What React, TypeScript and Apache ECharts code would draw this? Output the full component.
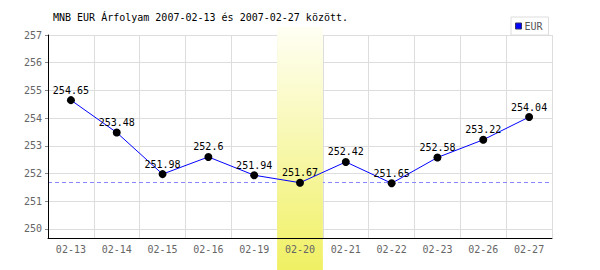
import React, { useEffect, useRef } from "react";
import * as echarts from "echarts";

const categories = ["02-13", "02-14", "02-15", "02-16", "02-19", "02-20", "02-21", "02-22", "02-23", "02-26", "02-27"];
const eurValues = [254.65, 253.48, 251.98, 252.6, 251.94, 251.67, 252.42, 251.65, 252.58, 253.22, 254.04];
const yTicks = [250, 251, 252, 253, 254, 255, 256, 257];
const highlightIndex = 5;
const titleText = "MNB EUR Árfolyam 2007-02-13 és 2007-02-27 között.";
const seriesName = "EUR";

const FONT = "'DejaVu Sans Mono', monospace";
const Y_MIN = 249.675;
const Y_MAX = 257;

export default function App() {
  const ref = useRef<HTMLDivElement>(null);
  useEffect(() => {
    if (!ref.current) return;
    const chart = echarts.init(ref.current, null, { renderer: "svg" });
    chart.setOption({
      animation: false,
      backgroundColor: "#ffffff",
      title: {
        text: titleText,
        left: 53,
        top: 12,
        padding: 0,
        textStyle: { fontFamily: FONT, fontSize: 10, fontWeight: "normal", color: "#000" },
      },
      legend: {
        left: 511,
        top: 17,
        padding: [4, 6, 4, 4],
        backgroundColor: "#fff",
        borderColor: "#dddddd",
        borderWidth: 1,
        itemWidth: 6,
        itemHeight: 6,
        itemGap: 5,
        textStyle: { fontFamily: FONT, fontSize: 10, color: "#555", padding: [0, 0, 0, -2] },
        data: [
          {
            name: seriesName,
            icon: "rect",
            itemStyle: { color: "#0000ff", borderColor: "#333366", borderWidth: 1 },
          },
        ],
      },
      grid: { left: 48, right: 48, top: 35, bottom: 32 },
      xAxis: [
        {
          type: "category",
          data: categories,
          boundaryGap: true,
          z: 4,
          axisLine: { show: true, lineStyle: { color: "#000", width: 1 } },
          axisTick: { show: false },
          axisLabel: { fontFamily: FONT, fontSize: 10, color: "#666", margin: 6 },
          splitLine: { show: false },
        },
        {
          type: "category",
          data: categories,
          boundaryGap: true,
          z: 0,
          position: "bottom",
          axisLine: { show: false },
          axisTick: { show: false },
          axisLabel: { show: false },
          splitLine: { show: true, lineStyle: { color: "#dddddd", width: 1 } },
        },
      ],
      yAxis: [
        {
          type: "value",
          min: Y_MIN,
          max: Y_MAX,
          z: 4,
          axisLine: { show: true, lineStyle: { color: "#000", width: 1 } },
          axisTick: { show: true, length: 3, customValues: yTicks, lineStyle: { color: "#888" } },
          axisLabel: { fontFamily: FONT, fontSize: 10, color: "#666", margin: 6, customValues: yTicks },
          splitLine: { show: false },
        },
        {
          type: "value",
          min: Y_MIN,
          max: Y_MAX,
          z: 0,
          position: "left",
          axisLine: { show: false },
          axisTick: { show: false, customValues: yTicks },
          axisLabel: { show: false, customValues: yTicks },
          splitLine: { show: true, lineStyle: { color: "#dddddd", width: 1 } },
        },
      ],
      series: [
        {
          name: seriesName,
          type: "line",
          data: eurValues,
          z: 3,
          symbol: "circle",
          symbolSize: 8,
          lineStyle: { color: "#0000ff", width: 1 },
          itemStyle: { color: "#000" },
          label: {
            show: true,
            position: "top",
            distance: 1,
            fontFamily: FONT,
            fontSize: 10,
            color: "#000",
          },
          markLine: {
            silent: true,
            symbol: "none",
            z: 1,
            label: { show: false },
            lineStyle: { color: "#8888ff", type: [4, 3], width: 1 },
            data: [{ yAxis: eurValues[highlightIndex] }],
          },
        },
      ],
    });

    const cx = chart.convertToPixel({ xAxisIndex: 0 }, categories[highlightIndex]) as number;
    const cNext = chart.convertToPixel({ xAxisIndex: 0 }, categories[highlightIndex + 1]) as number;
    const bw = cNext - cx;
    chart.setOption({
      graphic: [
        {
          type: "rect",
          z: 2,
          silent: true,
          shape: { x: cx - bw / 2, y: 27, width: bw, height: 243 },
          style: {
            fill: new echarts.graphic.LinearGradient(0, 0, 0, 1, [
              { offset: 0, color: "#fffff4" },
              { offset: 1, color: "#f0f064" },
            ]),
          },
        },
      ],
    });

    return () => chart.dispose();
  }, []);
  return <div ref={ref} style={{ width: 600, height: 270, position: "absolute", left: 0, top: 0 }} />;
}
